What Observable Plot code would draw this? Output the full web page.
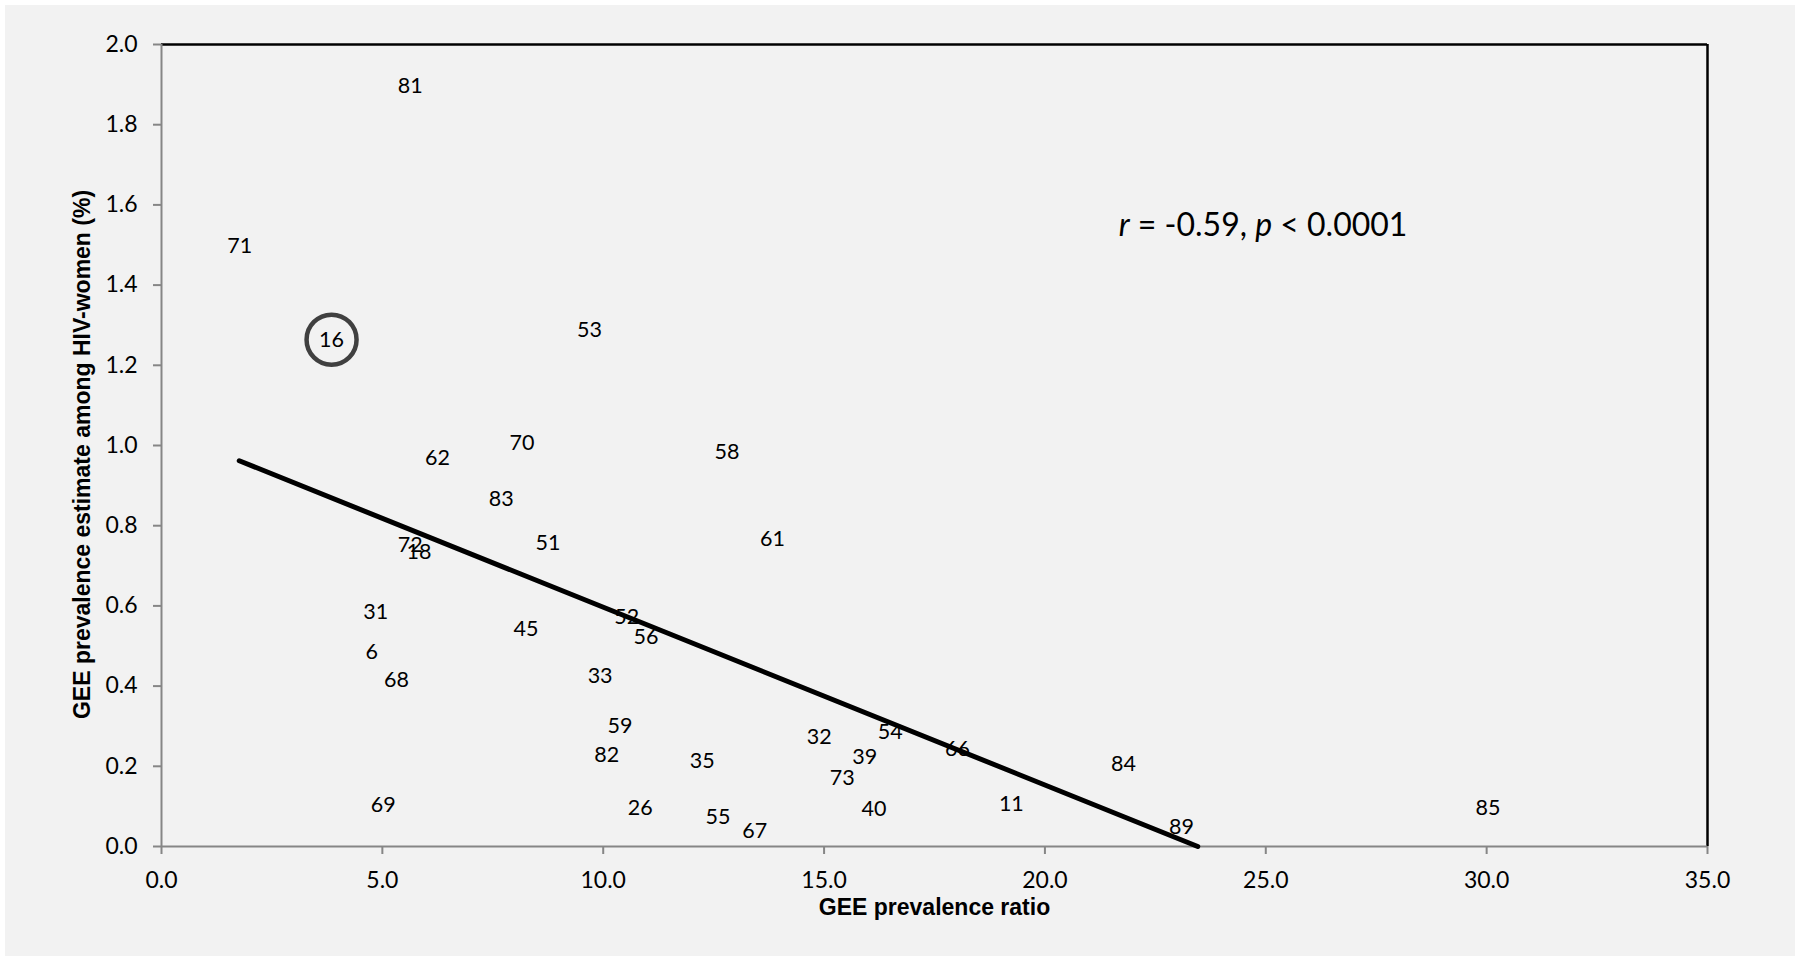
<!DOCTYPE html>
<html>
<head>
<meta charset="utf-8">
<script src="https://cdn.jsdelivr.net/npm/d3@7"></script>
<script src="https://cdn.jsdelivr.net/npm/@observablehq/plot@0.6"></script>
<style>
  html, body { margin: 0; padding: 0; background: #ffffff; }
  #panel { position: absolute; left: 5px; top: 5px; width: 1790px; height: 951px; background: #f2f2f2; }
  text { white-space: pre; }
</style>
</head>
<body>
<div id="panel"></div>
<script>
// Country/site IDs shown as data labels
const ids = [81, 71, 16, 53, 70, 62, 58, 83, 72, 18, 51, 61, 31, 45, 52, 56, 6, 68, 33, 59, 82, 35, 32, 54, 39, 66, 73, 84, 69, 26, 55, 67, 40, 11, 89, 85];
// GEE prevalence ratio (x)
const ratio = [5.63, 1.77, 3.85, 9.69, 8.16, 6.25, 12.80, 7.69, 5.63, 5.83, 8.75, 13.83, 4.85, 8.25, 10.53, 10.97, 4.76, 5.32, 9.93, 10.38, 10.08, 12.24, 14.89, 16.50, 15.92, 18.02, 15.41, 21.78, 5.02, 10.84, 12.60, 13.43, 16.13, 19.24, 23.09, 30.03];
// GEE prevalence estimate among HIV-women (%) (y)
const prevalence = [1.895, 1.496, 1.264, 1.287, 1.006, 0.969, 0.983, 0.867, 0.751, 0.734, 0.756, 0.767, 0.584, 0.543, 0.572, 0.522, 0.485, 0.414, 0.425, 0.299, 0.229, 0.212, 0.274, 0.285, 0.223, 0.244, 0.171, 0.206, 0.102, 0.0965, 0.073, 0.038, 0.092, 0.105, 0.048, 0.095];
// Highlighted (circled) ID
const highlighted = [16];
// Linear trend line end points
const trendX = [1.76, 23.46];
const trendY = [0.962, 0.0];
// Tick values
const xTicks = [0, 5, 10, 15, 20, 25, 30, 35];
const yTicks = [0, 0.2, 0.4, 0.6, 0.8, 1.0, 1.2, 1.4, 1.6, 1.8, 2.0];
// Texts
const xTitle = "GEE prevalence ratio";
const yTitle = "GEE prevalence estimate among HIV-women (%)";
const annotParts = [["r", true], [" = -0.59, ", false], ["p", true], [" < 0.0001", false]];
const annotX = [21.67];
const annotY = [1.549];

const points = ids.map((id, i) => ({id, x: ratio[i], y: prevalence[i]}));
const trend = trendX.map((x, i) => ({x, y: trendY[i]}));
const annot = annotX.map((x, i) => ({x, y: annotY[i], text: annotParts.map(p => p[0]).join("")}));

const axisGray = "#868686";
const fmt = d3.format(".1f");

const chart = Plot.plot({
  width: 1790,
  height: 951,
  marginLeft: 156,
  marginRight: 88,
  marginTop: 39,
  marginBottom: 110,
  style: {background: "#f2f2f2", fontFamily: "Lato, sans-serif", color: "#000", overflow: "visible"},
  x: {domain: [0, 35]},
  y: {domain: [0, 2]},
  marks: [
    Plot.ruleY([2], {stroke: "#000", strokeWidth: 2.5}),
    Plot.ruleX([35], {stroke: "#000", strokeWidth: 2.5}),
    Plot.ruleX([0], {stroke: axisGray, strokeWidth: 2}),
    Plot.ruleY([0], {stroke: axisGray, strokeWidth: 2}),
    Plot.axisX(xTicks, {tickSize: 8, tickPadding: 17, tickFormat: fmt, stroke: axisGray, strokeWidth: 2, fill: "#000", fontSize: 23, label: null}),
    Plot.axisY(yTicks, {tickSize: 8, tickPadding: 16, tickFormat: fmt, stroke: axisGray, strokeWidth: 2, fill: "#000", fontSize: 23, label: null}),
    Plot.line(trend, {x: "x", y: "y", stroke: "#000", strokeWidth: 5, strokeLinecap: "round"}),
    Plot.text(points, {x: "x", y: "y", text: d => String(d.id), fontSize: 21.5, fill: "#000"}),
    Plot.dot(points.filter(d => highlighted.includes(d.id)), {x: "x", y: "y", r: 25, stroke: "#404040", strokeWidth: 4.5, fill: "none"}),
    Plot.text([xTitle], {frameAnchor: "bottom", textAnchor: "middle", dy: 68, fontSize: 23, fontWeight: "bold", fontFamily: "Liberation Sans, Arial, sans-serif", fill: "#000"}),
    Plot.text([yTitle], {frameAnchor: "left", textAnchor: "middle", lineAnchor: "middle", dx: -79, dy: 9, rotate: -90, fontSize: 23, fontWeight: "bold", fontFamily: "Liberation Sans, Arial, sans-serif", fill: "#000"}),
    Plot.text(annot, {
      x: "x", y: "y", text: "text", textAnchor: "start", fontSize: 32, fill: "#000",
      render(index, scales, values, dimensions, context, next) {
        const g = next(index, scales, values, dimensions, context);
        d3.select(g).selectAll("text").each(function () {
          const t = d3.select(this);
          t.text(null);
          annotParts.forEach(([s, it]) => {
            const ts = t.append("tspan").text(s);
            if (it) ts.attr("font-style", "italic");
          });
        });
        return g;
      }
    })
  ]
});

document.getElementById("panel").appendChild(chart);
</script>
</body>
</html>
